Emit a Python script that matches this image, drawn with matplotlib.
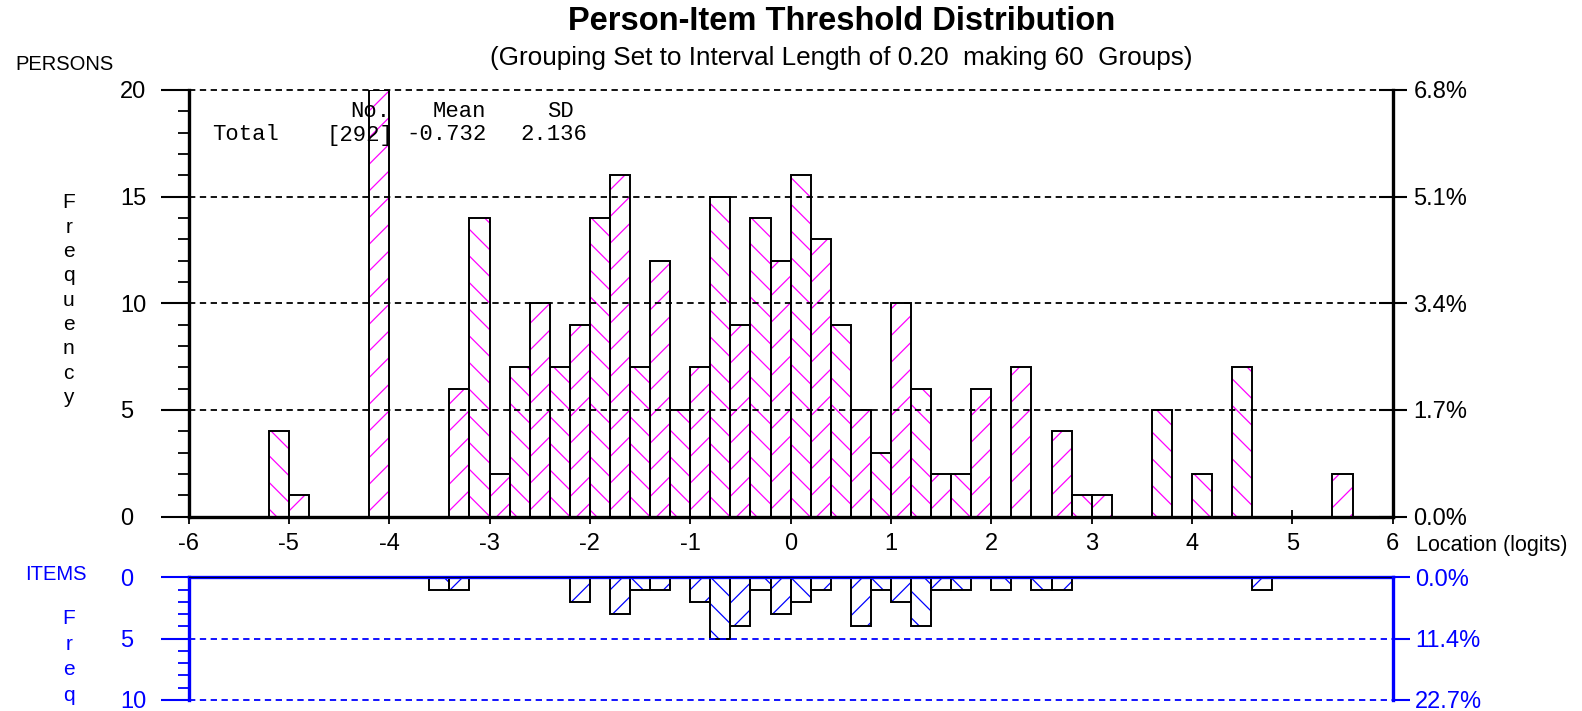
import matplotlib
matplotlib.use('Agg')
import matplotlib.pyplot as plt
from matplotlib.ticker import MultipleLocator

# rendered at 80 dpi so that the single hatch gets the tighter spacing of the original;
# every size below is given in "100 dpi points" and scaled through pt()
DPI = 80
S = 100 / DPI


def pt(v):
    return v * S


plt.rcParams['font.family'] = ['Liberation Sans', 'DejaVu Sans']
plt.rcParams['hatch.linewidth'] = pt(0.9)
plt.rcParams['axes.unicode_minus'] = False

W, H = 1582, 711
MAGENTA = '#FF00FF'
BLUE = '#0000FF'

# grouping: 60 groups of 0.2 logits from -6 to 6
x_min, x_max, bin_w = -6.0, 6.0, 0.2

# persons: left edge of each non-empty group and its count
person_starts = [-5.2, -5.0, -4.2, -3.4, -3.2, -3.0, -2.8, -2.6, -2.4, -2.2,
                 -2.0, -1.8, -1.6, -1.4, -1.2, -1.0, -0.8, -0.6, -0.4, -0.2,
                 0.0, 0.2, 0.4, 0.6, 0.8, 1.0, 1.2, 1.4, 1.6, 1.8,
                 2.2, 2.6, 2.8, 3.0, 3.6, 4.0, 4.4, 5.4]
person_counts = [4, 1, 20, 6, 14, 2, 7, 10, 7, 9,
                 14, 16, 7, 12, 5, 7, 15, 9, 14, 12,
                 16, 13, 9, 5, 3, 10, 6, 2, 2, 6,
                 7, 4, 1, 1, 5, 2, 7, 2]

# items (thresholds)
item_starts = [-3.6, -3.4, -2.2, -1.8, -1.6, -1.4, -1.0, -0.8, -0.6, -0.4,
               -0.2, 0.0, 0.2, 0.6, 0.8, 1.0, 1.2, 1.4, 1.6, 2.0,
               2.4, 2.6, 4.6]
item_counts = [1, 1, 2, 3, 1, 1, 2, 5, 4, 1,
               3, 2, 1, 4, 1, 2, 4, 1, 1, 1,
               1, 1, 1]

person_ticks = [0, 5, 10, 15, 20]
person_pct = ['0.0%', '1.7%', '3.4%', '5.1%', '6.8%']
item_ticks = [0, 5, 10]
item_pct = ['0.0%', '11.4%', '22.7%']

n_persons, mean_loc, sd_loc = 292, -0.732, 2.136

title = 'Person-Item Threshold Distribution'
subtitle = '(Grouping Set to Interval Length of 0.20  making 60  Groups)'


def px(x, y):
    return x / W, 1 - y / H


def draw_bars(ax, starts, counts, hatch_color):
    for s, c in zip(starts, counts):
        k = int(round((s - x_min) / bin_w))
        h = '/' if k % 2 else '\\'
        ax.bar(s, c, width=bin_w, align='edge', color='white',
               edgecolor=hatch_color, hatch=h, linewidth=0, zorder=2)
        ax.bar(s, c, width=bin_w, align='edge', fill=False,
               edgecolor='black', linewidth=pt(1.4), zorder=2.5)


fig = plt.figure(figsize=(W / DPI, H / DPI), dpi=DPI)
num_fs = pt(17)

# ---- persons panel
left, right = 188.5, 1392.7
top1, bot1 = 90, 516.5
ax1 = fig.add_axes([left / W, 1 - bot1 / H, (right - left) / W, (bot1 - top1) / H])
draw_bars(ax1, person_starts, person_counts, MAGENTA)
ax1.set_xlim(x_min, x_max)
ax1.set_ylim(0, 20)
for y in person_ticks[1:]:
    ax1.axhline(y, color='black', ls=(0, (3.5, 2.5)), lw=pt(1.3), zorder=3, clip_on=False)
ax1.spines['top'].set_visible(False)
ax1.spines['right'].set_visible(False)
for s in ['left', 'bottom']:
    ax1.spines[s].set_linewidth(pt(2.4))
ax1.set_xticks(range(-6, 7))
ax1.tick_params(axis='x', direction='inout', length=pt(10), width=pt(1.3),
                labelsize=num_fs, pad=pt(7))
ax1.set_yticks(person_ticks)
ax1.yaxis.set_minor_locator(MultipleLocator(1))
ax1.tick_params(axis='y', which='major', direction='out', length=pt(20), width=pt(1.5),
                labelsize=num_fs, pad=pt(29.5))
ax1.tick_params(axis='y', which='minor', direction='out', length=pt(8), width=pt(1.3))
for lbl in ax1.get_yticklabels():
    lbl.set_ha('left')

ax1r = ax1.twinx()
ax1r.set_ylim(0, 20)
ax1r.set_yticks(person_ticks)
ax1r.set_yticklabels(person_pct)
for s in ['top', 'left', 'bottom']:
    ax1r.spines[s].set_visible(False)
ax1r.spines['right'].set_linewidth(pt(2.4))
ax1r.tick_params(axis='y', direction='inout', length=pt(20), width=pt(1.5),
                 labelsize=num_fs, pad=pt(5))

# ---- items panel
top2, bot2 = 577.3, 700
ax2 = fig.add_axes([left / W, 1 - bot2 / H, (right - left) / W, (bot2 - top2) / H])
draw_bars(ax2, item_starts, item_counts, BLUE)
ax2.set_xlim(x_min, x_max)
ax2.set_ylim(10, 0)
for y in item_ticks[1:]:
    ax2.axhline(y, color=BLUE, ls=(0, (3.5, 2.5)), lw=pt(1.3), zorder=3, clip_on=False)
ax2.axhline(0, color='black', lw=pt(1.2), zorder=2.6)
ax2.spines['bottom'].set_visible(False)
ax2.spines['right'].set_visible(False)
for s in ['left', 'top']:
    ax2.spines[s].set_linewidth(pt(2.4))
    ax2.spines[s].set_color(BLUE)
ax2.tick_params(axis='x', bottom=False, labelbottom=False)
ax2.set_yticks(item_ticks)
ax2.yaxis.set_minor_locator(MultipleLocator(1))
ax2.tick_params(axis='y', which='major', direction='out', length=pt(20), width=pt(1.5),
                labelsize=num_fs, pad=pt(29.5), color=BLUE, labelcolor=BLUE)
ax2.tick_params(axis='y', which='minor', direction='out', length=pt(8), width=pt(1.3),
                color=BLUE)
for lbl in ax2.get_yticklabels():
    lbl.set_ha('left')

ax2r = ax2.twinx()
ax2r.set_ylim(10, 0)
ax2r.set_yticks(item_ticks)
ax2r.set_yticklabels(item_pct)
for s in ['top', 'left', 'bottom']:
    ax2r.spines[s].set_visible(False)
ax2r.spines['right'].set_linewidth(pt(2.4))
ax2r.spines['right'].set_color(BLUE)
ax2r.tick_params(axis='y', direction='out', length=pt(12), width=pt(1.5),
                 labelsize=num_fs, pad=pt(4), color=BLUE, labelcolor=BLUE)

# ---- texts
fig.text(*px(842, 21), title, ha='center', va='center', fontsize=pt(23.5), weight='bold')
fig.text(*px(841, 57.5), subtitle, ha='center', va='center', fontsize=pt(18.8))
fig.text(*px(15, 65), 'PERSONS', ha='left', va='center', fontsize=pt(14.5))
for i, ch in enumerate('Frequency'):
    fig.text(*px(68.6, 203 + i * 24.3), ch, ha='center', va='center', fontsize=pt(15))
fig.text(*px(25, 575), 'ITEMS', ha='left', va='center', fontsize=pt(14.5), color=BLUE)
for i, ch in enumerate('Freq'):
    fig.text(*px(68.6, 619 + i * 25.4), ch, ha='center', va='center', fontsize=pt(15),
             color=BLUE)
fig.text(*px(1416, 546), 'Location (logits)', ha='left', va='center', fontsize=pt(15.5))

mono = dict(family='Liberation Mono', fontsize=pt(16), va='center', ha='left')
fig.text(*px(350, 111.7), 'No.', **mono)
fig.text(*px(433, 111.7), 'Mean', **mono)
fig.text(*px(546.7, 111.7), 'SD', **mono)
fig.text(*px(211.7, 135), 'Total', **mono)
fig.text(*px(326.7, 135), f'[{n_persons}]', **mono)
fig.text(*px(406.7, 135), f'{mean_loc:.3f}', **mono)
fig.text(*px(520, 135), f'{sd_loc:.3f}', **mono)

fig.savefig('out.png', dpi=DPI)
